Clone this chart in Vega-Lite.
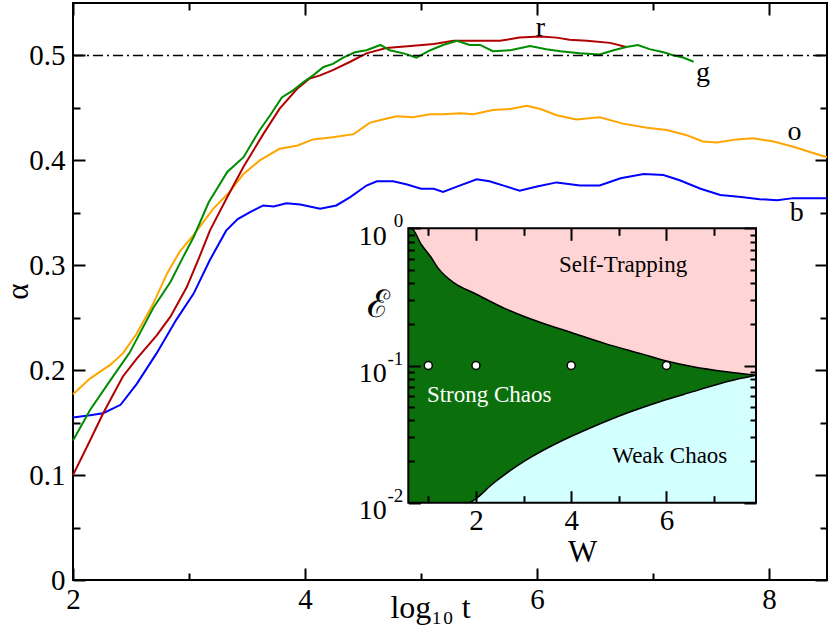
{
  "$schema": "https://vega.github.io/schema/vega-lite/v6.json",
  "width": 754,
  "height": 577,
  "autosize": {"type": "none"},
  "padding": {"left": 73, "top": 3, "right": 3, "bottom": 62},
  "background": "white",
  "config": {
    "view": {"stroke": "#000", "strokeWidth": 2},
    "axis": {
      "grid": false, "domain": false,
      "labelFont": "Liberation Serif", "titleFont": "Liberation Serif", "labelColor": "#000", "titleColor": "#000", "labelFontSize": 29,
      "titleFontWeight": "normal", "labelOverlap": false, "labelFlush": false, "labelBound": false
    }
  },
  "datasets": {
    "curves": [
      {"series":"b","logt":2.0,"alpha":0.155},{"series":"b","logt":2.147,"alpha":0.157},{"series":"b","logt":2.26,"alpha":0.159},{"series":"b","logt":2.41,"alpha":0.167},{"series":"b","logt":2.55,"alpha":0.187},{"series":"b","logt":2.72,"alpha":0.216},{"series":"b","logt":2.89,"alpha":0.248},{"series":"b","logt":3.04,"alpha":0.273},{"series":"b","logt":3.18,"alpha":0.305},{"series":"b","logt":3.32,"alpha":0.333},{"series":"b","logt":3.42,"alpha":0.344},{"series":"b","logt":3.53,"alpha":0.351},{"series":"b","logt":3.64,"alpha":0.357},{"series":"b","logt":3.73,"alpha":0.356},{"series":"b","logt":3.84,"alpha":0.359},{"series":"b","logt":3.96,"alpha":0.358},{"series":"b","logt":4.13,"alpha":0.354},{"series":"b","logt":4.27,"alpha":0.357},{"series":"b","logt":4.39,"alpha":0.365},{"series":"b","logt":4.53,"alpha":0.376},{"series":"b","logt":4.62,"alpha":0.380},{"series":"b","logt":4.76,"alpha":0.380},{"series":"b","logt":4.88,"alpha":0.377},{"series":"b","logt":5.0,"alpha":0.373},{"series":"b","logt":5.11,"alpha":0.373},{"series":"b","logt":5.19,"alpha":0.370},{"series":"b","logt":5.31,"alpha":0.375},{"series":"b","logt":5.48,"alpha":0.382},{"series":"b","logt":5.59,"alpha":0.380},{"series":"b","logt":5.74,"alpha":0.375},{"series":"b","logt":5.85,"alpha":0.371},{"series":"b","logt":6.0,"alpha":0.375},{"series":"b","logt":6.17,"alpha":0.379},{"series":"b","logt":6.37,"alpha":0.376},{"series":"b","logt":6.54,"alpha":0.376},{"series":"b","logt":6.72,"alpha":0.383},{"series":"b","logt":6.92,"alpha":0.387},{"series":"b","logt":7.09,"alpha":0.386},{"series":"b","logt":7.23,"alpha":0.381},{"series":"b","logt":7.41,"alpha":0.373},{"series":"b","logt":7.58,"alpha":0.367},{"series":"b","logt":7.76,"alpha":0.365},{"series":"b","logt":7.92,"alpha":0.363},{"series":"b","logt":8.07,"alpha":0.362},{"series":"b","logt":8.21,"alpha":0.364},{"series":"b","logt":8.5,"alpha":0.364},
      {"series":"o","logt":2.0,"alpha":0.177},{"series":"o","logt":2.147,"alpha":0.192},{"series":"o","logt":2.32,"alpha":0.205},{"series":"o","logt":2.43,"alpha":0.216},{"series":"o","logt":2.55,"alpha":0.235},{"series":"o","logt":2.69,"alpha":0.263},{"series":"o","logt":2.81,"alpha":0.292},{"series":"o","logt":2.92,"alpha":0.313},{"series":"o","logt":3.04,"alpha":0.329},{"series":"o","logt":3.21,"alpha":0.354},{"series":"o","logt":3.35,"alpha":0.370},{"series":"o","logt":3.47,"alpha":0.387},{"series":"o","logt":3.61,"alpha":0.400},{"series":"o","logt":3.78,"alpha":0.411},{"series":"o","logt":3.93,"alpha":0.414},{"series":"o","logt":4.07,"alpha":0.420},{"series":"o","logt":4.24,"alpha":0.422},{"series":"o","logt":4.42,"alpha":0.425},{"series":"o","logt":4.56,"alpha":0.436},{"series":"o","logt":4.67,"alpha":0.439},{"series":"o","logt":4.79,"alpha":0.442},{"series":"o","logt":4.93,"alpha":0.441},{"series":"o","logt":5.08,"alpha":0.444},{"series":"o","logt":5.19,"alpha":0.444},{"series":"o","logt":5.34,"alpha":0.445},{"series":"o","logt":5.45,"alpha":0.444},{"series":"o","logt":5.62,"alpha":0.448},{"series":"o","logt":5.77,"alpha":0.449},{"series":"o","logt":5.91,"alpha":0.452},{"series":"o","logt":6.03,"alpha":0.449},{"series":"o","logt":6.17,"alpha":0.443},{"series":"o","logt":6.34,"alpha":0.439},{"series":"o","logt":6.54,"alpha":0.441},{"series":"o","logt":6.74,"alpha":0.435},{"series":"o","logt":6.95,"alpha":0.431},{"series":"o","logt":7.12,"alpha":0.429},{"series":"o","logt":7.29,"alpha":0.424},{"series":"o","logt":7.43,"alpha":0.418},{"series":"o","logt":7.55,"alpha":0.417},{"series":"o","logt":7.72,"alpha":0.420},{"series":"o","logt":7.86,"alpha":0.421},{"series":"o","logt":8.04,"alpha":0.418},{"series":"o","logt":8.21,"alpha":0.413},{"series":"o","logt":8.38,"alpha":0.407},{"series":"o","logt":8.5,"alpha":0.403},
      {"series":"r","logt":2.0,"alpha":0.100},{"series":"r","logt":2.147,"alpha":0.133},{"series":"r","logt":2.26,"alpha":0.159},{"series":"r","logt":2.43,"alpha":0.194},{"series":"r","logt":2.55,"alpha":0.211},{"series":"r","logt":2.72,"alpha":0.233},{"series":"r","logt":2.84,"alpha":0.251},{"series":"r","logt":2.98,"alpha":0.279},{"series":"r","logt":3.09,"alpha":0.308},{"series":"r","logt":3.18,"alpha":0.333},{"series":"r","logt":3.33,"alpha":0.365},{"series":"r","logt":3.47,"alpha":0.394},{"series":"r","logt":3.64,"alpha":0.425},{"series":"r","logt":3.78,"alpha":0.449},{"series":"r","logt":3.93,"alpha":0.468},{"series":"r","logt":4.04,"alpha":0.478},{"series":"r","logt":4.13,"alpha":0.481},{"series":"r","logt":4.24,"alpha":0.486},{"series":"r","logt":4.39,"alpha":0.494},{"series":"r","logt":4.53,"alpha":0.502},{"series":"r","logt":4.70,"alpha":0.507},{"series":"r","logt":4.91,"alpha":0.509},{"series":"r","logt":5.11,"alpha":0.511},{"series":"r","logt":5.28,"alpha":0.514},{"series":"r","logt":5.48,"alpha":0.514},{"series":"r","logt":5.68,"alpha":0.514},{"series":"r","logt":5.85,"alpha":0.517},{"series":"r","logt":6.03,"alpha":0.518},{"series":"r","logt":6.17,"alpha":0.517},{"series":"r","logt":6.28,"alpha":0.515},{"series":"r","logt":6.43,"alpha":0.514},{"series":"r","logt":6.63,"alpha":0.512},{"series":"r","logt":6.77,"alpha":0.508},
      {"series":"g","logt":2.0,"alpha":0.133},{"series":"g","logt":2.147,"alpha":0.162},{"series":"g","logt":2.32,"alpha":0.190},{"series":"g","logt":2.49,"alpha":0.217},{"series":"g","logt":2.69,"alpha":0.259},{"series":"g","logt":2.84,"alpha":0.284},{"series":"g","logt":2.95,"alpha":0.308},{"series":"g","logt":3.04,"alpha":0.327},{"series":"g","logt":3.17,"alpha":0.360},{"series":"g","logt":3.33,"alpha":0.389},{"series":"g","logt":3.47,"alpha":0.403},{"series":"g","logt":3.61,"alpha":0.429},{"series":"g","logt":3.70,"alpha":0.443},{"series":"g","logt":3.80,"alpha":0.460},{"series":"g","logt":3.90,"alpha":0.467},{"series":"g","logt":3.99,"alpha":0.475},{"series":"g","logt":4.07,"alpha":0.481},{"series":"g","logt":4.16,"alpha":0.489},{"series":"g","logt":4.24,"alpha":0.492},{"series":"g","logt":4.33,"alpha":0.498},{"series":"g","logt":4.43,"alpha":0.503},{"series":"g","logt":4.53,"alpha":0.505},{"series":"g","logt":4.65,"alpha":0.510},{"series":"g","logt":4.73,"alpha":0.505},{"series":"g","logt":4.85,"alpha":0.502},{"series":"g","logt":4.96,"alpha":0.498},{"series":"g","logt":5.08,"alpha":0.505},{"series":"g","logt":5.19,"alpha":0.510},{"series":"g","logt":5.31,"alpha":0.514},{"series":"g","logt":5.42,"alpha":0.510},{"series":"g","logt":5.51,"alpha":0.510},{"series":"g","logt":5.62,"alpha":0.504},{"series":"g","logt":5.77,"alpha":0.505},{"series":"g","logt":5.94,"alpha":0.509},{"series":"g","logt":6.08,"alpha":0.506},{"series":"g","logt":6.20,"alpha":0.504},{"series":"g","logt":6.37,"alpha":0.502},{"series":"g","logt":6.54,"alpha":0.501},{"series":"g","logt":6.66,"alpha":0.505},{"series":"g","logt":6.77,"alpha":0.508},{"series":"g","logt":6.87,"alpha":0.510},{"series":"g","logt":6.97,"alpha":0.506},{"series":"g","logt":7.09,"alpha":0.503},{"series":"g","logt":7.18,"alpha":0.500},{"series":"g","logt":7.26,"alpha":0.498},{"series":"g","logt":7.35,"alpha":0.494}
    ],
    "curveLabels": [
      {"logt":6.03,"alpha":0.526,"lab":"r"},{"logt":7.43,"alpha":0.483,"lab":"g"},{"logt":8.22,"alpha":0.427,"lab":"o"},{"logt":8.24,"alpha":0.350,"lab":"b"}
    ],
    "upper": [
      {"W":0.58,"E":1.0},{"W":0.64,"E":1.0},{"W":0.86,"E":0.755},{"W":1.05,"E":0.62},{"W":1.21,"E":0.51},{"W":1.55,"E":0.398},{"W":1.97,"E":0.336},{"W":2.6,"E":0.261},{"W":3.3,"E":0.209},{"W":4.0,"E":0.174},{"W":4.7,"E":0.145},{"W":5.5,"E":0.121},{"W":6.0,"E":0.108},{"W":6.56,"E":0.098},{"W":7.26,"E":0.090},{"W":7.88,"E":0.085}
    ],
    "lower": [
      {"W":1.87,"E":0.01},{"W":1.97,"E":0.0105},{"W":2.36,"E":0.0138},{"W":3.06,"E":0.0205},{"W":3.76,"E":0.0278},{"W":4.46,"E":0.0358},{"W":5.16,"E":0.0449},{"W":5.86,"E":0.0545},{"W":6.56,"E":0.0645},{"W":7.26,"E":0.0762},{"W":7.88,"E":0.085}
    ],
    "points": [
      {"W":1,"E":0.1},{"W":2,"E":0.1},{"W":4,"E":0.1},{"W":6,"E":0.1}
    ],
    "exps": [
      {"E":1,"lab":"0"},{"E":0.1,"lab":"-1"},{"E":0.01,"lab":"-2"}
    ],
    "regionLabels": [
      {"W":5.09,"E":0.54,"lab":"Self-Trapping"},
      {"W":6.07,"E":0.0219,"lab":"Weak Chaos"}
    ],
    "strong": [
      {"W":0.97,"E":0.061,"lab":"Strong Chaos"}
    ]
  },
  "layer": [
    {
      "data": {"name": "curves"},
      "mark": {"type": "line", "strokeWidth": 2},
      "encoding": {
        "x": {"field": "logt", "type": "quantitative", "scale": {"domain": [2, 8.5], "nice": false, "zero": false},
          "axis": {"orient": "bottom", "offset": -12, "tickSize": 12, "tickColor": "#000", "tickWidth": 2, "values": [2,4,6,8], "format": "d", "labelPadding": 5,
            "title": "log₁₀ t", "titleFontSize": 32, "titleX": 357, "titleY": 49, "titleBaseline": "alphabetic", "titleAlign": "center"}},
        "y": {"field": "alpha", "type": "quantitative", "scale": {"domain": [0, 0.55], "nice": false},
          "axis": {"orient": "left", "offset": -12, "tickSize": 12, "tickColor": "#000", "tickWidth": 2, "values": [0,0.1,0.2,0.3,0.4,0.5],
            "labelExpr": "datum.value === 0 ? '0' : format(datum.value, '.1f')", "labelPadding": 8,
            "title": "α", "titleFontSize": 31, "titleX": -67, "titleY": 288, "titleAngle": -90, "titleAlign": "center", "titleBaseline": "middle"}},
        "color": {"field": "series", "type": "nominal", "scale": {"domain": ["b","o","r","g"], "range": ["#0000ff","#ffa500","#b00000","#008c00"]}, "legend": null}
      }
    },
    {
      "data": {"name": "curveLabels"},
      "mark": {"type": "text", "font": "Liberation Serif", "fontSize": 28, "align": "center", "baseline": "middle", "color": "black"},
      "encoding": {
        "x": {"field": "logt", "type": "quantitative", "scale": {"domain": [2, 8.5], "nice": false, "zero": false},
          "axis": {"orient": "bottom", "offset": -7, "tickSize": 7, "tickColor": "#000", "tickWidth": 2, "values": [3,5,7], "labels": false, "title": null}},
        "y": {"field": "alpha", "type": "quantitative", "scale": {"domain": [0, 0.55], "nice": false},
          "axis": {"orient": "left", "offset": -7, "tickSize": 7, "tickColor": "#000", "tickWidth": 2, "values": [0.05,0.15,0.25,0.35,0.45], "labels": false, "title": null}},
        "text": {"field": "lab"}
      }
    },
    {
      "data": {"values": [{}]},
      "mark": {"type": "rule", "strokeDash": [10, 4, 2, 4], "strokeWidth": 1.5, "color": "black"},
      "encoding": {
        "x": {"datum": 2, "type": "quantitative", "scale": {"domain": [2, 8.5], "nice": false, "zero": false},
          "axis": {"orient": "top", "offset": -12, "tickSize": 12, "tickColor": "#000", "tickWidth": 2, "values": [2,4,6,8], "labels": false, "title": null}},
        "x2": {"datum": 8.5},
        "y": {"datum": 0.5, "type": "quantitative", "scale": {"domain": [0, 0.55], "nice": false},
          "axis": {"orient": "right", "offset": -12, "tickSize": 12, "tickColor": "#000", "tickWidth": 2, "values": [0,0.1,0.2,0.3,0.4,0.5], "labels": false, "title": null}}
      }
    },
    {
      "data": {"values": [{}]},
      "mark": {"type": "rule", "strokeOpacity": 0},
      "encoding": {
        "x": {"datum": 2, "type": "quantitative", "scale": {"domain": [2, 8.5], "nice": false, "zero": false},
          "axis": {"orient": "top", "offset": -7, "tickSize": 7, "tickColor": "#000", "tickWidth": 2, "values": [3,5,7], "labels": false, "title": null}},
        "x2": {"datum": 8.5},
        "y": {"datum": 0.5, "type": "quantitative", "scale": {"domain": [0, 0.55], "nice": false},
          "axis": {"orient": "right", "offset": -7, "tickSize": 7, "tickColor": "#000", "tickWidth": 2, "values": [0.05,0.15,0.25,0.35,0.45], "labels": false, "title": null}}
      }
    },
    {
      "layer": [
        {
          "data": {"values": [{}]},
          "mark": {"type": "rect", "color": "#ffd4d4"},
          "encoding": {
            "x": {"datum": 0.58, "type": "quantitative", "scale": {"domain": [0.58, 7.88], "range": [335.3, 683], "nice": false, "zero": false},
              "axis": {"orient": "bottom", "offset": -89.3, "tickSize": 12, "tickColor": "#000", "tickWidth": 2, "zindex": 1, "values": [2,4,6], "format": "d",
                "labelPadding": 4, "title": "W", "titleFontSize": 31, "titlePadding": 2}},
            "x2": {"datum": 7.88},
            "y": {"datum": 0.01, "type": "quantitative", "scale": {"type": "log", "domain": [0.01, 1], "range": [499.7, 225.3], "nice": false},
              "axis": {"orient": "left", "offset": -347.3, "tickSize": 12, "tickColor": "#000", "tickWidth": 2, "zindex": 1, "values": [0.01, 0.1, 1],
                "labelExpr": "'10'", "labelFontSize": 28, "labelPadding": 22, "labelOffset": 8,
                "title": "ℰ", "titleFontSize": 38, "titleAngle": 0, "titleX": -42, "titleY": 302, "titleAlign": "center", "titleBaseline": "middle"}},
            "y2": {"datum": 1}
          }
        },
        {
          "data": {"name": "upper"},
          "mark": {"type": "area", "color": "#0b700b", "interpolate": "monotone"},
          "encoding": {
            "x": {"field": "W", "type": "quantitative"},
            "y": {"field": "E", "type": "quantitative"},
            "y2": {"datum": 0.01}
          }
        },
        {
          "data": {"name": "lower"},
          "mark": {"type": "area", "color": "#d4ffff", "interpolate": "monotone"},
          "encoding": {
            "x": {"field": "W", "type": "quantitative"},
            "y": {"field": "E", "type": "quantitative"},
            "y2": {"datum": 0.01}
          }
        },
        {
          "data": {"name": "upper"},
          "mark": {"type": "line", "color": "black", "strokeWidth": 1.5, "interpolate": "monotone"},
          "encoding": {
            "x": {"field": "W", "type": "quantitative"},
            "y": {"field": "E", "type": "quantitative"}
          }
        },
        {
          "data": {"name": "lower"},
          "mark": {"type": "line", "color": "black", "strokeWidth": 1.5, "interpolate": "monotone"},
          "encoding": {
            "x": {"field": "W", "type": "quantitative"},
            "y": {"field": "E", "type": "quantitative"}
          }
        }
      ]
    },
    {
      "data": {"name": "exps"},
      "mark": {"type": "text", "font": "Liberation Serif", "fontSize": 19, "align": "right", "baseline": "middle", "dx": -5, "dy": -7, "color": "black"},
      "encoding": {
        "x": {"datum": 0.58, "type": "quantitative", "scale": {"domain": [0.58, 7.88], "range": [335.3, 683], "nice": false, "zero": false},
          "axis": {"orient": "bottom", "offset": -84.3, "tickSize": 7, "tickColor": "#000", "tickWidth": 2, "zindex": 1, "values": [1,3,5,7], "labels": false, "title": null}},
        "y": {"field": "E", "type": "quantitative", "scale": {"type": "log", "domain": [0.01, 1], "range": [499.7, 225.3], "nice": false},
          "axis": {"orient": "left", "offset": -341.3, "tickSize": 6, "tickColor": "#000", "tickWidth": 2, "zindex": 1, "values": [0.02,0.03,0.04,0.05,0.06,0.07,0.08,0.09,0.2,0.3,0.4,0.5,0.6,0.7,0.8,0.9],
            "labels": false, "title": null}},
        "text": {"field": "lab"}
      }
    },
    {
      "data": {"name": "points"},
      "mark": {"type": "point", "filled": true, "fill": "white", "stroke": "black", "strokeWidth": 1.5, "size": 64, "opacity": 1},
      "encoding": {
        "x": {"field": "W", "type": "quantitative", "scale": {"domain": [0.58, 7.88], "range": [335.3, 683], "nice": false, "zero": false},
          "axis": {"orient": "top", "offset": -237.3, "tickSize": 12, "tickColor": "#000", "tickWidth": 2, "zindex": 1, "values": [2,4,6], "labels": false, "title": null}},
        "y": {"field": "E", "type": "quantitative", "scale": {"type": "log", "domain": [0.01, 1], "range": [499.7, 225.3], "nice": false},
          "axis": {"orient": "right", "offset": -83, "tickSize": 12, "tickColor": "#000", "tickWidth": 2, "zindex": 1, "values": [0.01, 0.1, 1], "labels": false, "title": null}}
      }
    },
    {
      "layer": [
        {
          "data": {"name": "regionLabels"},
          "mark": {"type": "text", "font": "Liberation Serif", "fontSize": 23, "align": "center", "baseline": "middle", "color": "black"},
          "encoding": {
            "x": {"field": "W", "type": "quantitative", "scale": {"domain": [0.58, 7.88], "range": [335.3, 683], "nice": false, "zero": false},
              "axis": {"orient": "top", "offset": -232.3, "tickSize": 7, "tickColor": "#000", "tickWidth": 2, "zindex": 1, "values": [1,3,5,7], "labels": false, "title": null}},
            "y": {"field": "E", "type": "quantitative", "scale": {"type": "log", "domain": [0.01, 1], "range": [499.7, 225.3], "nice": false},
              "axis": {"orient": "right", "offset": -77, "tickSize": 6, "tickColor": "#000", "tickWidth": 2, "zindex": 1, "values": [0.02,0.03,0.04,0.05,0.06,0.07,0.08,0.09,0.2,0.3,0.4,0.5,0.6,0.7,0.8,0.9],
                "labels": false, "title": null}},
            "text": {"field": "lab"}
          }
        },
        {
          "data": {"name": "strong"},
          "mark": {"type": "text", "font": "Liberation Serif", "fontSize": 23, "align": "left", "baseline": "middle", "color": "white"},
          "encoding": {
            "x": {"field": "W", "type": "quantitative"},
            "y": {"field": "E", "type": "quantitative"},
            "text": {"field": "lab"}
          }
        },
        {
          "data": {"values": [{}]},
          "mark": {"type": "rect", "filled": false, "stroke": "black", "strokeWidth": 2},
          "encoding": {
            "x": {"datum": 0.58, "type": "quantitative"},
            "x2": {"datum": 7.88},
            "y": {"datum": 0.01, "type": "quantitative"},
            "y2": {"datum": 1}
          }
        }
      ]
    }
  ],
  "resolve": {"scale": {"x": "independent", "y": "independent"}, "axis": {"x": "independent", "y": "independent"}}
}
